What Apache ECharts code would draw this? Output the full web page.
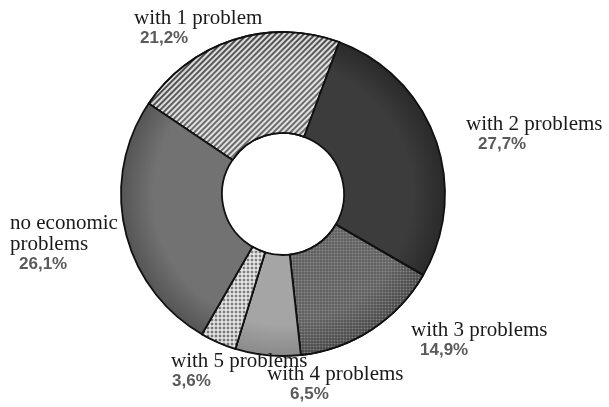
<!DOCTYPE html>
<html><head><meta charset="utf-8">
<script src="https://cdn.jsdelivr.net/npm/echarts@6/dist/echarts.min.js"></script>
<style>html,body{margin:0;padding:0;background:#fff}#c{width:609px;height:407px}</style>
</head><body><div id="c"></div>
<script>
const categories = ['with 1 problem','with 2 problems','with 3 problems','with 4 problems','with 5 problems','no economic problems'];
const values = [21.2, 27.7, 14.9, 6.5, 3.6, 26.1];
const valueLabels = ['21,2%','27,7%','14,9%','6,5%','3,6%','26,1%'];
const nameLines = ['with 1 problem','with 2 problems','with 3 problems','with 4 problems','with 5 problems','no economic\nproblems'];

// label layout (top-left of text block) and indent of percentage line
const labelPos = [[134,8],[466,114],[411,320],[267,364],[171,351],[10,213]];
const pctIndent = [6,12,9,23,1,9];

const CX = 283, CY = 194, R0 = 61, R1 = 162;
function shade(c, dark){
  return {type:'radial', x:CX, y:CY, r:R1, global:true,
    colorStops:[{offset:0,color:c},{offset:0.8,color:c},{offset:1,color:dark}]};
}
const styles = [
  {color:shade('#6c6c6c','#4a4a4a'), decal:{symbol:'rect', dashArrayX:[1,0], dashArrayY:[1.6,1.9], rotation:-Math.PI/4, color:'rgba(255,255,255,0.8)'}},
  {color:shade('#3c3c3c','#2a2a2a')},
  {color:shade('#5e5e5e','#444444'), decal:{symbol:'circle', symbolSize:0.7, dashArrayX:[[3,0]], dashArrayY:[3,0], color:'rgba(165,165,165,0.6)'}},
  {color:shade('#a5a5a5','#8a8a8a')},
  {color:shade('#4a4a4a','#3a3a3a'), decal:{symbol:'circle', symbolSize:1, dashArrayX:[[4,0]], dashArrayY:[4,0], color:'rgba(255,255,255,0.85)'}},
  {color:shade('#727272','#555555')}
];

const data = categories.map((c,i)=>({
  name:c, value:values[i],
  itemStyle:Object.assign({borderColor:'#111', borderWidth:1.8}, styles[i]),
  label:{formatter:()=> nameLines[i].split('\n').map(s=>'{n|'+s+'}').join('\n') + '\n{p|'+valueLabels[i]+'}',
    rich:{n:{fontFamily:'Liberation Serif',fontSize:21,color:'#1a1a1a',lineHeight:21},
          p:{fontFamily:'Liberation Sans',fontSize:17,fontWeight:'bold',color:'#5a5a5a',lineHeight:19,padding:[0,0,0,pctIndent[i]]}}}
}));

const chart = echarts.init(document.getElementById('c'));
chart.setOption({
  animation:false,
  series:[{
    type:'pie',
    center:[CX,CY],
    radius:[R0,R1],
    startAngle:146,
    clockwise:true,
    avoidLabelOverlap:false,
    label:{show:true, position:'outside'},
    labelLine:{show:false},
    labelLayout:(p)=>({x:labelPos[p.dataIndex][0], y:labelPos[p.dataIndex][1], align:'left', verticalAlign:'top', hideOverlap:false, moveOverlap:null}),
    data:data
  }]
});
</script></body></html>
